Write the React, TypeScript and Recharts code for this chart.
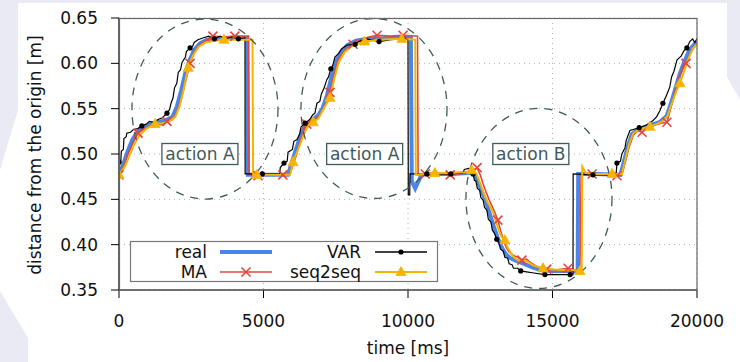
import React from 'react';
import { ComposedChart, Line, XAxis, YAxis, CartesianGrid, ReferenceDot } from 'recharts';

type Pt = number[];

const xTicks = [0, 5000, 10000, 15000, 20000];
const yTicks = [0.35, 0.4, 0.45, 0.5, 0.55, 0.6, 0.65];

// [time ms, distance m, marker flag]
const realPts: Pt[] = [
  [0, 0.478], [150, 0.489], [300, 0.503], [450, 0.515], [600, 0.523], [800, 0.529], [1000, 0.532], [1300, 0.535],
  [1600, 0.537], [1850, 0.541], [2000, 0.552], [2150, 0.57], [2300, 0.59], [2450, 0.604], [2600, 0.615], [2800, 0.622],
  [3050, 0.626], [3500, 0.628], [4000, 0.628], [4440, 0.628], [4460, 0.477], [5000, 0.477], [5850, 0.477], [5950, 0.488],
  [6100, 0.503], [6300, 0.522], [6450, 0.532], [6700, 0.538], [6900, 0.543], [7050, 0.551], [7200, 0.565], [7350, 0.585],
  [7500, 0.602], [7700, 0.613], [7900, 0.62], [8200, 0.625], [8600, 0.627], [9500, 0.628], [10100, 0.628], [10130, 0.47],
  [10250, 0.462], [10450, 0.476], [10600, 0.478], [11500, 0.478], [12100, 0.479], [12250, 0.479], [12400, 0.471],
  [12500, 0.463], [12600, 0.455], [12700, 0.447], [12800, 0.437], [12900, 0.427], [13000, 0.417], [13100, 0.408],
  [13200, 0.4], [13300, 0.394], [13400, 0.389], [13550, 0.385], [13750, 0.382], [14000, 0.379], [14300, 0.375],
  [14600, 0.372], [15000, 0.371], [15500, 0.371], [15870, 0.37], [15890, 0.478], [16500, 0.478], [17350, 0.477],
  [17450, 0.489], [17600, 0.508], [17750, 0.522], [17950, 0.527], [18300, 0.531], [18700, 0.535], [18950, 0.542],
  [19100, 0.556], [19250, 0.572], [19400, 0.588], [19550, 0.601], [19700, 0.612], [19850, 0.619], [20000, 0.624],
];

const maPts: Pt[] = [
  [0, 0.477, 1], [150, 0.486], [300, 0.499], [450, 0.51], [660, 0.523, 1], [850, 0.527], [1050, 0.531], [1300, 0.533],
  [1500, 0.532], [1660, 0.536, 1], [1850, 0.538], [2000, 0.546], [2150, 0.56], [2300, 0.58], [2460, 0.6, 1], [2600, 0.612],
  [2750, 0.619], [2950, 0.624], [3250, 0.63, 1], [3600, 0.629], [4010, 0.63, 1], [4480, 0.63], [4500, 0.477],
  [4810, 0.476, 1], [5300, 0.477], [5670, 0.477, 1], [5900, 0.477], [6000, 0.486], [6150, 0.5], [6300, 0.517],
  [6500, 0.533, 1], [6700, 0.537], [6900, 0.541], [7050, 0.548], [7200, 0.559], [7300, 0.568, 1], [7450, 0.588],
  [7580, 0.604], [7800, 0.614], [8100, 0.621, 1], [8400, 0.626], [8650, 0.629], [8930, 0.631, 1], [9400, 0.63],
  [9830, 0.631, 1], [10330, 0.63], [10350, 0.477], [10600, 0.478, 1], [11000, 0.478], [11460, 0.477, 1], [12000, 0.479],
  [12200, 0.481], [12390, 0.485, 1], [12500, 0.477], [12600, 0.467], [12700, 0.458], [12800, 0.45], [12900, 0.443],
  [13000, 0.436], [13110, 0.427, 1], [13200, 0.416], [13300, 0.405], [13400, 0.397], [13500, 0.392], [13650, 0.388],
  [13800, 0.386], [13940, 0.383, 1], [14100, 0.384], [14250, 0.38], [14450, 0.376], [14800, 0.373, 1], [15100, 0.372],
  [15540, 0.374, 1], [15800, 0.372], [15940, 0.372], [15960, 0.39], [15990, 0.477], [16370, 0.478, 1], [16800, 0.478],
  [17230, 0.476, 1], [17400, 0.477], [17500, 0.489], [17650, 0.508], [17800, 0.521], [17950, 0.526], [18100, 0.524, 1],
  [18300, 0.529], [18550, 0.532], [18750, 0.534], [18960, 0.535, 1], [19100, 0.552], [19250, 0.57], [19400, 0.587],
  [19620, 0.6, 1], [19750, 0.61], [19880, 0.617], [20000, 0.621],
];

const seqPts: Pt[] = [
  [0, 0.477, 1], [200, 0.486], [350, 0.497], [500, 0.509], [700, 0.52], [950, 0.528], [1250, 0.533, 1], [1500, 0.534],
  [1750, 0.536], [1950, 0.541], [2100, 0.553], [2250, 0.573], [2390, 0.595, 1], [2550, 0.608], [2750, 0.618],
  [3000, 0.623], [3300, 0.625], [3630, 0.626, 1], [4200, 0.626], [4620, 0.626], [4640, 0.477], [4770, 0.477, 1],
  [5500, 0.477], [5920, 0.477], [6020, 0.491, 1], [6200, 0.505], [6400, 0.522], [6550, 0.532], [6720, 0.535, 1],
  [6900, 0.539], [7100, 0.551], [7300, 0.562, 1], [7450, 0.583], [7600, 0.601], [7800, 0.612], [8050, 0.619],
  [8500, 0.624, 1], [9000, 0.626], [9790, 0.627, 1], [10250, 0.626], [10270, 0.477], [10930, 0.479, 1], [11500, 0.479],
  [12000, 0.48], [12200, 0.482, 1], [12350, 0.479], [12450, 0.472], [12550, 0.463], [12650, 0.454], [12750, 0.447],
  [12850, 0.442], [12950, 0.435], [13050, 0.425], [13150, 0.415], [13250, 0.408], [13350, 0.405, 1], [13450, 0.397],
  [13590, 0.389], [13700, 0.385], [13850, 0.382], [14000, 0.383], [14150, 0.381], [14350, 0.377], [14670, 0.374, 1],
  [14950, 0.373], [15300, 0.372], [15700, 0.372], [15950, 0.371, 1], [16010, 0.371], [16030, 0.486], [16150, 0.479],
  [16500, 0.478], [17060, 0.478, 1], [17400, 0.478], [17500, 0.491], [17650, 0.511], [17800, 0.523], [18000, 0.527],
  [18370, 0.53, 1], [18600, 0.533], [18800, 0.536], [18980, 0.542], [19130, 0.556], [19280, 0.569], [19410, 0.578, 1],
  [19550, 0.591], [19700, 0.605], [19850, 0.616], [20000, 0.621],
];

const varPts: Pt[] = [
  [0, 0.491, 1], [60, 0.491], [80, 0.503], [150, 0.505], [170, 0.517], [250, 0.519], [270, 0.523], [400, 0.524],
  [500, 0.527], [650, 0.528], [790, 0.531, 1], [950, 0.533], [1050, 0.536], [1200, 0.535], [1350, 0.538], [1500, 0.54],
  [1660, 0.545, 1], [1750, 0.549], [1800, 0.556], [1870, 0.562], [1920, 0.573], [2000, 0.578], [2050, 0.59],
  [2130, 0.593], [2180, 0.601], [2300, 0.607], [2330, 0.613], [2460, 0.617, 1], [2550, 0.619], [2600, 0.623],
  [2730, 0.626], [2900, 0.628], [3100, 0.63], [3300, 0.627, 1], [3500, 0.63], [3700, 0.627], [3900, 0.629],
  [4130, 0.627, 1], [4360, 0.628], [4365, 0.478], [4960, 0.478, 1], [5560, 0.478], [5580, 0.485], [5710, 0.49, 1],
  [5820, 0.492], [5850, 0.502], [6000, 0.505], [6050, 0.514], [6160, 0.516], [6250, 0.522], [6300, 0.53],
  [6440, 0.534, 1], [6600, 0.538], [6700, 0.543], [6780, 0.545], [6850, 0.556], [6950, 0.558], [7000, 0.566],
  [7100, 0.573], [7190, 0.582], [7250, 0.585], [7330, 0.594, 1], [7400, 0.598], [7470, 0.607], [7600, 0.611],
  [7700, 0.616], [7890, 0.62], [8170, 0.621, 1], [8300, 0.624], [8580, 0.627], [9000, 0.624, 1], [9400, 0.626],
  [9830, 0.627, 1], [10000, 0.627], [10010, 0.455], [10060, 0.455], [10070, 0.478], [10650, 0.478, 1],
  [11480, 0.478, 1], [11900, 0.479], [11950, 0.483], [12100, 0.484], [12200, 0.482], [12250, 0.478, 1], [12300, 0.471],
  [12350, 0.47], [12400, 0.462], [12480, 0.46], [12520, 0.452], [12600, 0.449], [12650, 0.441], [12730, 0.438],
  [12780, 0.428], [12870, 0.425], [12920, 0.416], [13000, 0.412], [13070, 0.406, 1], [13150, 0.402], [13200, 0.395],
  [13300, 0.393], [13350, 0.386], [13450, 0.385], [13500, 0.379], [13600, 0.378], [13650, 0.374], [13800, 0.374],
  [13900, 0.371, 1], [14100, 0.37], [14300, 0.369], [14740, 0.367, 1], [15200, 0.367], [15610, 0.367, 1],
  [15710, 0.367], [15715, 0.478], [16400, 0.477, 1], [17200, 0.477], [17230, 0.49, 1], [17350, 0.492], [17400, 0.5],
  [17510, 0.507], [17550, 0.515], [17680, 0.526], [18000, 0.529, 1], [18250, 0.532], [18480, 0.537], [18600, 0.541],
  [18720, 0.548], [18820, 0.556, 1], [18950, 0.565], [19060, 0.574], [19120, 0.585], [19200, 0.591], [19310, 0.604],
  [19450, 0.608], [19550, 0.614], [19650, 0.617, 1], [19750, 0.624], [19850, 0.627], [19920, 0.623], [20000, 0.627],
];

const actionLabels = [
  { t: 2800, v: 0.5, text: 'action A' },
  { t: 8500, v: 0.5, text: 'action A' },
  { t: 14250, v: 0.5, text: 'action B' },
];
const actionRegions = [
  { t: 2975, v: 0.5496 },
  { t: 8823, v: 0.5502 },
  { t: 14532, v: 0.451 },
];

const FONT = 'DejaVu Sans';
const C_REAL = '#4a86e8';
const C_MA = '#e2473d';
const C_VAR = '#000000';
const C_SEQ = '#f5b400';
const C_NOTE = '#3f5a5a';

const toRows = (pts: Pt[]) => pts.map((p) => ({ t: p[0], v: p[1], m: p[2] === 1 }));

const xMark = (cx: number, cy: number, key: string) => (
  <path key={key} d={`M${cx - 4.5},${cy - 4.5}L${cx + 4.5},${cy + 4.5}M${cx - 4.5},${cy + 4.5}L${cx + 4.5},${cy - 4.5}`} stroke={C_MA} strokeWidth={1.6} fill="none" />
);
const triMark = (cx: number, cy: number, key: string) => (
  <path key={key} d={`M${cx},${cy - 5.5}L${cx + 5},${cy + 3.5}L${cx - 5},${cy + 3.5}Z`} fill={C_SEQ} stroke={C_SEQ} strokeWidth={0.8} />
);
const dotMark = (cx: number, cy: number, key: string) => <circle key={key} cx={cx} cy={cy} r={2.6} fill={C_VAR} />;

const makeDot = (fn: (cx: number, cy: number, key: string) => React.ReactElement, name: string) => (props: any) => {
  const { cx, cy, payload, index } = props;
  const key = `${name}-${index}`;
  if (!payload || !payload.m || cx == null || cy == null) return <g key={key} />;
  return fn(cx, cy, key);
};

const legendItems = [
  { name: 'real', color: C_REAL, width: 4, mark: null as any, col: 0, row: 0 },
  { name: 'VAR', color: C_VAR, width: 1.3, mark: dotMark, col: 1, row: 0 },
  { name: 'MA', color: C_MA, width: 1.6, mark: xMark, col: 0, row: 1 },
  { name: 'seq2seq', color: C_SEQ, width: 2, mark: triMark, col: 1, row: 1 },
];

const ActionShape = (text: string) => (props: any) => {
  const { cx, cy } = props;
  return (
    <g>
      <rect x={cx - 38} y={cy - 10.5} width={76} height={21} fill="#fff" stroke={C_NOTE} strokeWidth={1.3} />
      <text x={cx} y={cy + 6} textAnchor="middle" fontSize={17} fontFamily={FONT} fill={C_NOTE}>{text}</text>
    </g>
  );
};

const EllipseShape = (rx: number, ry: number) => (props: any) => {
  const { cx, cy } = props;
  return <ellipse cx={cx} cy={cy} rx={rx} ry={ry} fill="none" stroke={C_NOTE} strokeWidth={1.3} strokeDasharray="8 7" />;
};

export default function App() {
  const tickStyle = { fontSize: 17, fill: '#111', fontFamily: FONT };
  return (
    <div style={{ position: 'fixed', left: 0, top: 0, width: 740, height: 362, background: '#fff', overflow: 'hidden' }}>
      <svg width={740} height={362} style={{ position: 'absolute', left: 0, top: 0 }}>
        <polygon points="0,0 740,0 740,3 0,3" fill="#e9eaf3" />
        <polygon points="0,0 18,0 18,110 0,170" fill="#e9eaf3" />
        <polygon points="0,291 28,338 28,362 0,362" fill="#e9eaf3" />
        <polygon points="727,0 740,0 740,100 727,77" fill="#e9eaf3" />
      </svg>
      <div style={{ position: 'absolute', left: 0, top: 0 }}>
        <ComposedChart width={740} height={362} margin={{ top: 18, right: 43, bottom: 0, left: 0 }}>
          <CartesianGrid stroke="#b0b0b0" strokeDasharray="1 4" />
          <XAxis
            type="number"
            dataKey="t"
            domain={[0, 20000]}
            ticks={xTicks}
            height={72}
            tickSize={8}
            tickMargin={17}
            tick={tickStyle}
            axisLine={{ stroke: '#000', strokeWidth: 1.2 }}
            tickLine={{ stroke: '#000' }}
            allowDataOverflow
            label={{ value: 'time [ms]', position: 'insideBottom', offset: 8, style: { fontSize: 17, fill: '#111', fontFamily: FONT } }}
          />
          <YAxis
            type="number"
            dataKey="v"
            domain={[0.35, 0.65]}
            ticks={yTicks}
            width={119}
            tickSize={8}
            tickMargin={13}
            tick={tickStyle}
            tickFormatter={(v: number) => v.toFixed(2)}
            axisLine={{ stroke: '#000', strokeWidth: 1.2 }}
            tickLine={{ stroke: '#000' }}
            allowDataOverflow
          />
          {actionRegions.map((r, i) => (
            <ReferenceDot key={`el${i}`} x={r.t} y={r.v} r={1} ifOverflow="visible" shape={EllipseShape(73, 90)} />
          ))}
          <Line data={toRows(realPts)} dataKey="v" name="real" type="linear" stroke={C_REAL} strokeWidth={4} dot={false} activeDot={false} isAnimationActive={false} />
          <Line data={toRows(maPts)} dataKey="v" name="MA" type="linear" stroke={C_MA} strokeWidth={1.6} dot={makeDot(xMark, 'ma')} activeDot={false} isAnimationActive={false} />
          <Line data={toRows(varPts)} dataKey="v" name="VAR" type="linear" stroke={C_VAR} strokeWidth={1.2} dot={makeDot(dotMark, 'var')} activeDot={false} isAnimationActive={false} />
          <Line data={toRows(seqPts)} dataKey="v" name="seq2seq" type="linear" stroke={C_SEQ} strokeWidth={2} dot={makeDot(triMark, 'seq')} activeDot={false} isAnimationActive={false} />
          {actionLabels.map((l, i) => (
            <ReferenceDot key={`lb${i}`} x={l.t} y={l.v} r={1} ifOverflow="visible" shape={ActionShape(l.text)} />
          ))}
        </ComposedChart>
      </div>
      <svg width={740} height={362} style={{ position: 'absolute', left: 0, top: 0, pointerEvents: 'none' }}>
        <rect x={119.5} y={18.5} width={577.5} height={271.5} fill="none" stroke="#666" strokeWidth={1.2} />
        <text x={35} y={155} transform="rotate(-90 35 155)" textAnchor="middle" dominantBaseline="central" fontSize={17} fontFamily={FONT} fill="#111">
          distance from the origin [m]
        </text>
        <rect x={130.5} y={241.5} width={307} height={40} fill="#fff" stroke="#777" strokeWidth={1.2} />
        {legendItems.map((it) => {
          const lx = it.col === 0 ? 207 : 361;
          const sx = it.col === 0 ? 220 : 375;
          const cy = it.row === 0 ? 252 : 272;
          return (
            <g key={it.name}>
              <text x={lx} y={cy + 6} textAnchor="end" fontSize={17} fontFamily={FONT} fill="#111">{it.name}</text>
              <line x1={sx} y1={cy} x2={sx + 52} y2={cy} stroke={it.color} strokeWidth={it.width} />
              {it.mark ? it.mark(sx + 26, cy, `lg-${it.name}`) : null}
            </g>
          );
        })}
      </svg>
    </div>
  );
}
